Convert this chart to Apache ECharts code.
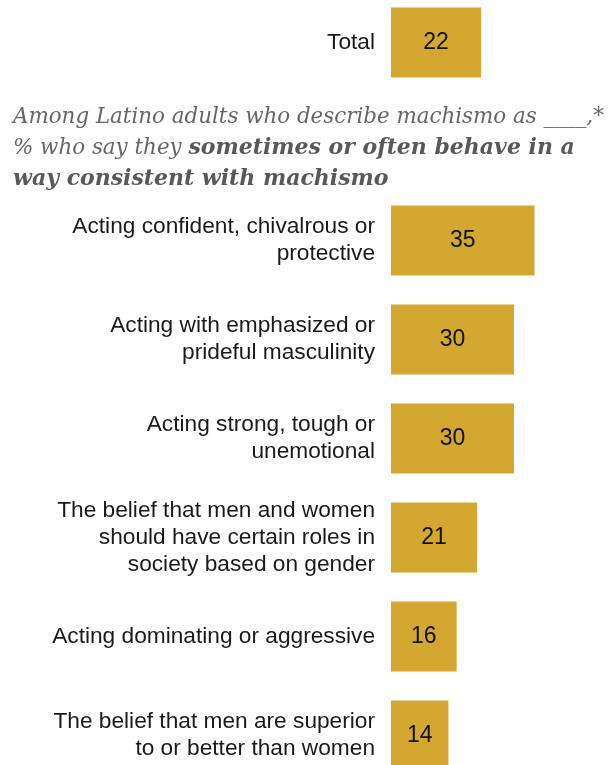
<!DOCTYPE html>
<html>
<head>
<meta charset="utf-8">
<script src="https://cdn.jsdelivr.net/npm/echarts@6/dist/echarts.min.js"></script>
<style>
  html, body { margin: 0; padding: 0; background: #fff; }
  #chart { width: 611px; height: 765px; }
</style>
</head>
<body>
<div id="chart"></div>
<script>
// categories, top to bottom; the empty one leaves room for the subtitle
const categories = [
  "Total",
  "",
  "Acting confident, chivalrous or\nprotective",
  "Acting with emphasized or\nprideful masculinity",
  "Acting strong, tough or\nunemotional",
  "The belief that men and women\nshould have certain roles in\nsociety based on gender",
  "Acting dominating or aggressive",
  "The belief that men are superior\nto or better than women"
];
const values = [22, null, 35, 30, 30, 21, 16, 14];

const gold = "#D3A730";
const sans = "'Liberation Sans', Arial, sans-serif";
const serif = "'DejaVu Serif', Georgia, serif";

const chart = echarts.init(document.getElementById("chart"));

const option = {
  animation: false,
  title: {
    left: 13,
    top: 102,
    padding: 0,
    text: "{n|Among Latino adults who describe machismo as ____,*}\n{n|% who say they }{b|sometimes or often behave in a}\n{b|way consistent with machismo}",
    textStyle: {
      rich: {
        n: {
          fontFamily: serif,
          fontStyle: "italic",
          fontWeight: "normal",
          fontSize: 21.4,
          color: "#666",
          lineHeight: 31
        },
        b: {
          fontFamily: serif,
          fontStyle: "italic",
          fontWeight: "bold",
          fontSize: 22,
          color: "#595959",
          lineHeight: 31
        }
      }
    }
  },
  grid: {
    left: 391,
    right: 15,
    top: -7,
    height: 792,
    outerBoundsMode: "none",
    containLabel: false
  },
  xAxis: {
    type: "value",
    min: 0,
    max: 50,
    show: false
  },
  yAxis: {
    type: "category",
    data: categories,
    inverse: true,
    axisLine: { show: false },
    axisTick: { show: false },
    axisLabel: {
      margin: 16,
      color: "#1a1a1a",
      fontFamily: sans,
      fontSize: 22.7,
      lineHeight: 27,
      align: "right"
    }
  },
  series: [
    {
      type: "bar",
      data: values,
      barWidth: 70,
      itemStyle: { color: gold },
      label: {
        show: true,
        position: "inside",
        color: "#111",
        fontFamily: sans,
        fontSize: 23
      }
    }
  ]
};

chart.setOption(option);
</script>
</body>
</html>
